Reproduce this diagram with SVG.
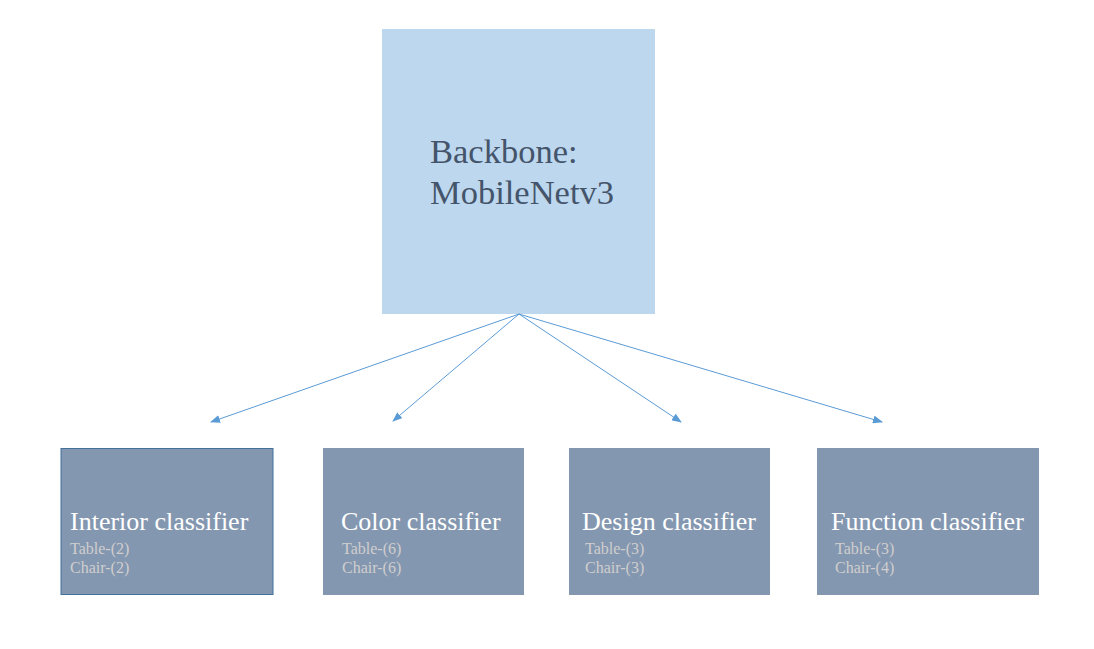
<svg xmlns="http://www.w3.org/2000/svg" width="1094" height="649" viewBox="0 0 1094 649">
<style>
.box{fill:#8497b0}
.t{font-family:"Liberation Serif",serif;font-size:26px;fill:#ffffff}
.s{font-family:"Liberation Serif",serif;font-size:16px;fill:#d0cece}
.bb{font-family:"Liberation Serif",serif;font-size:34.5px;fill:#44546a}
.c{stroke:#5b9bd5;stroke-width:1;fill:none}
</style>
<defs>
<marker id="ah" markerWidth="10" markerHeight="8" refX="9" refY="4" orient="auto" markerUnits="userSpaceOnUse">
<path d="M0,0 L10,4 L0,8 Z" fill="#5b9bd5"/>
</marker>
</defs>
<rect width="1094" height="649" fill="#ffffff"/>
<g id="backbone">
<rect x="382" y="29" width="273" height="285" fill="#bdd7ee"/>
<text class="bb" x="430" y="163">Backbone:</text>
<text class="bb" x="430" y="204">MobileNetv3</text>
</g>
<g id="connectors">
<line class="c" x1="519" y1="314" x2="211" y2="422" marker-end="url(#ah)"/>
<line class="c" x1="519" y1="314" x2="393" y2="421" marker-end="url(#ah)"/>
<line class="c" x1="519" y1="314" x2="681" y2="422" marker-end="url(#ah)"/>
<line class="c" x1="519" y1="314" x2="882" y2="422" marker-end="url(#ah)"/>
</g>
<g id="interior">
<rect class="box" x="61" y="448.5" width="212" height="146" stroke="#41719c" stroke-width="1"/>
<text class="t" x="70" y="530">Interior classifier</text>
<text class="s" x="70" y="554">Table-(2)</text>
<text class="s" x="70" y="573">Chair-(2)</text>
</g>
<g id="color">
<rect class="box" x="323" y="448" width="201" height="147"/>
<text class="t" x="341" y="530">Color classifier</text>
<text class="s" x="342" y="554">Table-(6)</text>
<text class="s" x="342" y="573">Chair-(6)</text>
</g>
<g id="design">
<rect class="box" x="569" y="448" width="201" height="147"/>
<text class="t" x="582" y="530">Design classifier</text>
<text class="s" x="585" y="554">Table-(3)</text>
<text class="s" x="585" y="573">Chair-(3)</text>
</g>
<g id="function">
<rect class="box" x="817" y="448" width="222" height="147"/>
<text class="t" x="831" y="530">Function classifier</text>
<text class="s" x="835" y="554">Table-(3)</text>
<text class="s" x="835" y="573">Chair-(4)</text>
</g>
</svg>
